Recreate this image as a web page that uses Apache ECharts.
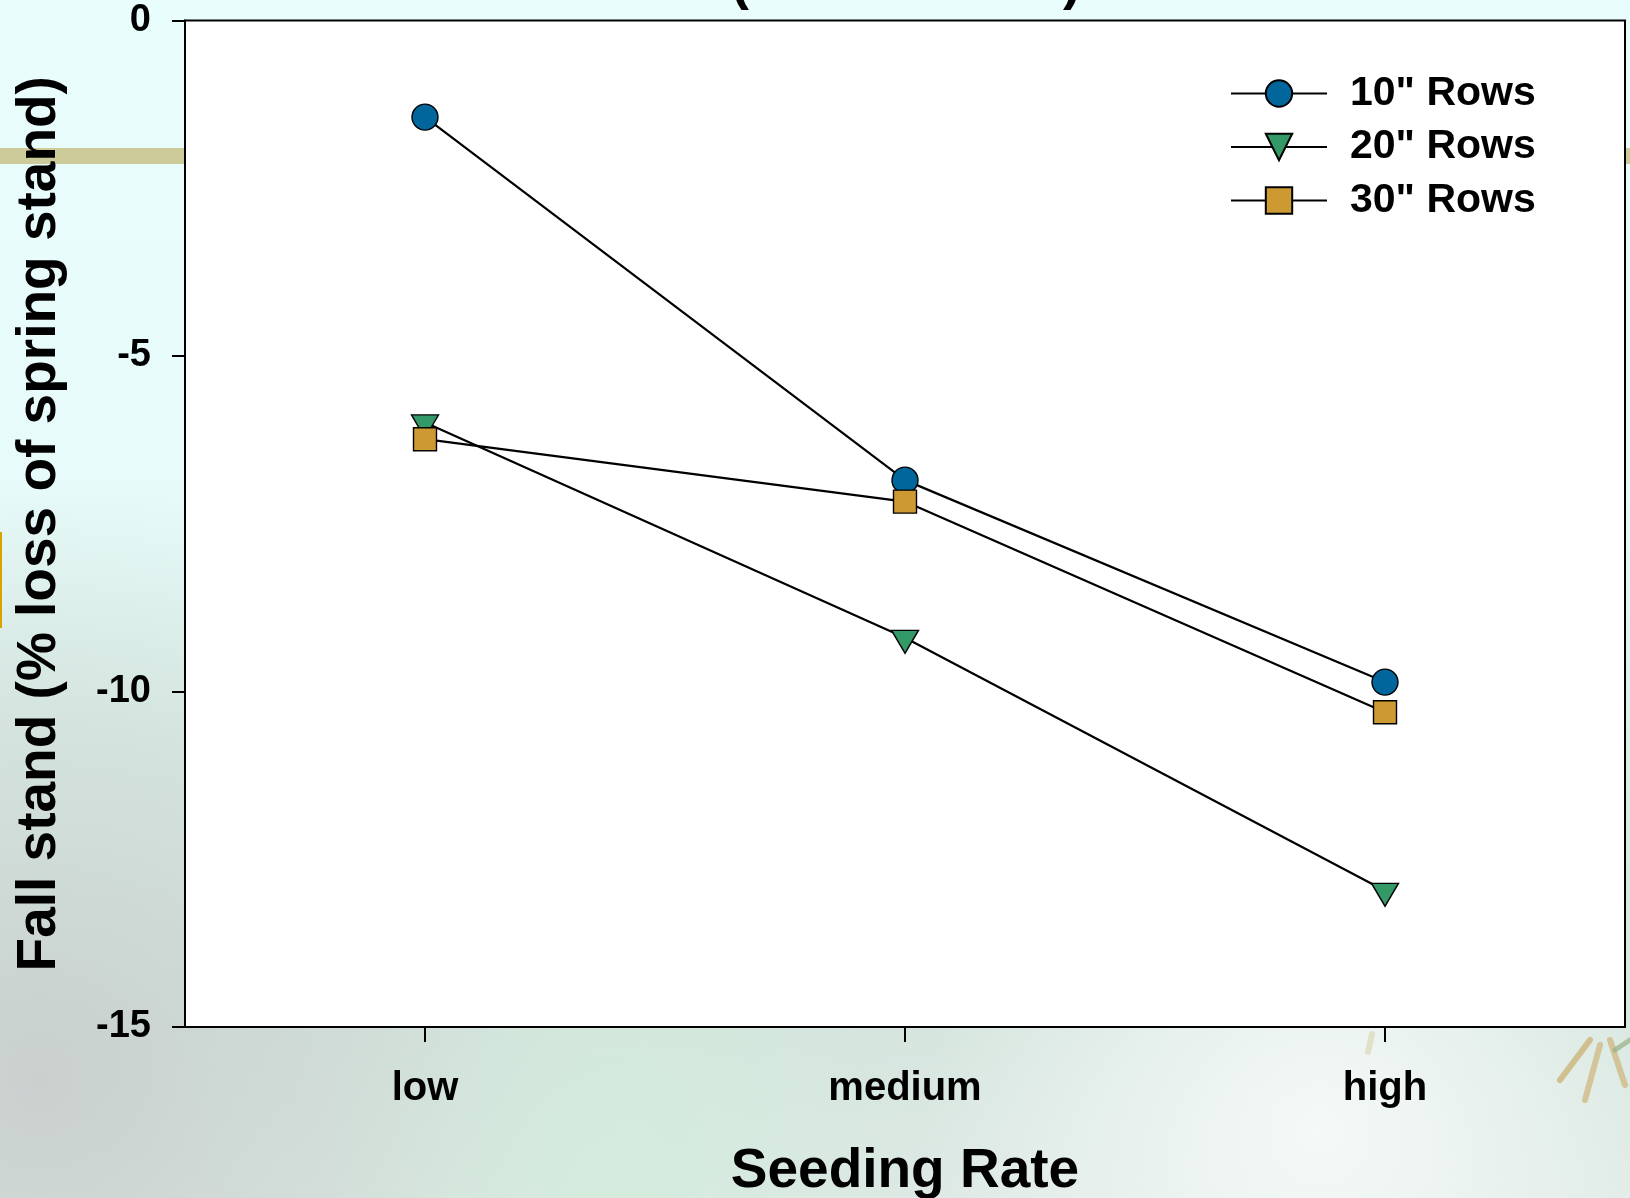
<!DOCTYPE html>
<html>
<head>
<meta charset="utf-8">
<title>Fall stand by seeding rate</title>
<script src="https://cdn.jsdelivr.net/npm/echarts@6/dist/echarts.min.js"></script>
<style>
  html, body { margin: 0; padding: 0; background: #e8fcfc; }
  #chart { width: 1630px; height: 1198px; }
</style>
</head>
<body>
<div id="chart"></div>
<script>
// Seeding rate categories (x axis)
const seedingRates = ['low', 'medium', 'high'];

// Fall stand, % loss of spring stand, per row spacing
const rows10 = [-1.44, -6.85, -9.86];
const rows20 = [-5.99, -9.20, -12.97];
const rows30 = [-6.24, -7.17, -10.31];

const seriesNames = ['10" Rows', '20" Rows', '30" Rows'];

// Y axis range and tick step
const yMin = -15;
const yMax = 0;
const yStep = 5;

const FONT = '"Liberation Sans", Arial, Helvetica, sans-serif';

const chart = echarts.init(document.getElementById('chart'), null, { renderer: 'canvas' });

// Soft slide-style backdrop behind the plot
const backdrop = [
  {
    type: 'rect', z: -20, silent: true,
    shape: { x: 0, y: 0, width: 1630, height: 1198 },
    style: {
      fill: {
        type: 'linear', x: 0, y: 0, x2: 0, y2: 1,
        colorStops: [
          { offset: 0, color: '#e9fdfd' },
          { offset: 0.4, color: '#e6fbfa' },
          { offset: 0.62, color: '#dcefe9' },
          { offset: 0.85, color: '#d5e5de' },
          { offset: 1, color: '#dde9e4' }
        ]
      }
    }
  },
  {
    type: 'circle', z: -19, silent: true,
    shape: { cx: 40, cy: 1080, r: 600 },
    style: {
      fill: {
        type: 'radial', x: 0.5, y: 0.5, r: 0.5,
        colorStops: [
          { offset: 0, color: 'rgba(198,202,202,0.8)' },
          { offset: 0.6, color: 'rgba(202,212,208,0.45)' },
          { offset: 1, color: 'rgba(210,225,220,0)' }
        ]
      }
    }
  },
  {
    type: 'circle', z: -19, silent: true,
    shape: { cx: 620, cy: 1180, r: 300 },
    style: {
      fill: {
        type: 'radial', x: 0.5, y: 0.5, r: 0.5,
        colorStops: [
          { offset: 0, color: 'rgba(208,236,218,0.7)' },
          { offset: 1, color: 'rgba(208,236,218,0)' }
        ]
      }
    }
  },
  {
    type: 'circle', z: -19, silent: true,
    shape: { cx: 1320, cy: 1130, r: 400 },
    style: {
      fill: {
        type: 'radial', x: 0.5, y: 0.5, r: 0.5,
        colorStops: [
          { offset: 0, color: 'rgba(246,250,249,0.95)' },
          { offset: 1, color: 'rgba(246,250,249,0)' }
        ]
      }
    }
  },
  // horizontal tan rule across the slide
  {
    type: 'rect', z: -18, silent: true,
    shape: { x: 0, y: 148, width: 1630, height: 16 },
    style: { fill: '#cdcb9a' }
  },
  // thin gold accent on the left edge
  {
    type: 'rect', z: -18, silent: true,
    shape: { x: 0, y: 532, width: 2, height: 96 },
    style: { fill: '#d9a200' }
  },
  // pine needle sprigs, lower right
  {
    type: 'group', z: -17, silent: true,
    children: [
      { type: 'line', shape: { x1: 1590, y1: 1040, x2: 1560, y2: 1080 }, style: { stroke: 'rgba(205,180,120,0.8)', lineWidth: 6, lineCap: 'round' } },
      { type: 'line', shape: { x1: 1600, y1: 1045, x2: 1585, y2: 1100 }, style: { stroke: 'rgba(205,180,120,0.7)', lineWidth: 6, lineCap: 'round' } },
      { type: 'line', shape: { x1: 1610, y1: 1040, x2: 1625, y2: 1085 }, style: { stroke: 'rgba(205,180,120,0.7)', lineWidth: 6, lineCap: 'round' } },
      { type: 'line', shape: { x1: 1615, y1: 1050, x2: 1630, y2: 1040 }, style: { stroke: 'rgba(150,175,130,0.7)', lineWidth: 5, lineCap: 'round' } },
      { type: 'line', shape: { x1: 1372, y1: 1034, x2: 1368, y2: 1052 }, style: { stroke: 'rgba(215,200,150,0.45)', lineWidth: 6, lineCap: 'round' } }
    ]
  },
  // lower edge of the slide heading brackets
  {
    type: 'text', z: 10, silent: true,
    x: 740, y: 11,
    style: { text: '(', font: 'bold 54px ' + FONT, fill: '#000', align: 'center', verticalAlign: 'bottom' }
  },
  {
    type: 'text', z: 10, silent: true,
    x: 1072, y: 11,
    style: { text: ')', font: 'bold 54px ' + FONT, fill: '#000', align: 'center', verticalAlign: 'bottom' }
  }
];

const lineStyle = { color: '#000', width: 2.2 };
const markerBorder = { borderColor: '#000', borderWidth: 1.4 };

const option = {
  animation: false,
  graphic: { elements: backdrop },
  grid: {
    left: 185, right: 5, top: 20.5, bottom: 171,
    outerBoundsMode: 'none',
    containLabel: false,
    show: true,
    backgroundColor: '#ffffff',
    borderColor: '#000',
    borderWidth: 2
  },
  legend: {
    orient: 'vertical',
    left: 1230,
    top: 73,
    padding: 0,
    itemWidth: 96,
    itemHeight: 33,
    itemGap: 12.5,
    selectedMode: false,
    data: seriesNames,
    textStyle: {
      fontFamily: FONT, fontWeight: 'bold', fontSize: 41, color: '#000',
      lineHeight: 40, padding: [0, 0, 0, 18]
    }
  },
  xAxis: {
    type: 'category',
    data: seedingRates,
    boundaryGap: true,
    name: 'Seeding Rate',
    nameLocation: 'middle',
    nameGap: 117,
    nameTextStyle: { fontFamily: FONT, fontWeight: 'bold', fontSize: 55, color: '#000' },
    axisLine: { show: true, onZero: false, lineStyle: { color: '#000', width: 2 } },
    axisTick: { show: true, alignWithLabel: true, length: 15, lineStyle: { color: '#000', width: 2 } },
    axisLabel: { margin: 42, fontFamily: FONT, fontWeight: 'bold', fontSize: 40, color: '#000' },
    splitLine: { show: false }
  },
  yAxis: {
    type: 'value',
    min: yMin,
    max: yMax,
    interval: yStep,
    name: 'Fall stand (% loss of spring stand)',
    nameLocation: 'middle',
    nameRotate: 90,
    nameGap: 118,
    nameTextStyle: { fontFamily: FONT, fontWeight: 'bold', fontSize: 55, color: '#000' },
    axisLine: { show: true, lineStyle: { color: '#000', width: 2 } },
    axisTick: { show: true, length: 13, lineStyle: { color: '#000', width: 2 } },
    axisLabel: { margin: 34, fontFamily: FONT, fontWeight: 'bold', fontSize: 38, color: '#000' },
    splitLine: { show: false }
  },
  series: [
    {
      name: seriesNames[0], type: 'line', data: rows10,
      symbol: 'circle', symbolSize: 26,
      lineStyle: lineStyle,
      itemStyle: Object.assign({ color: '#00669c' }, markerBorder),
      emphasis: { disabled: true }
    },
    {
      name: seriesNames[1], type: 'line', data: rows20,
      symbol: 'triangle', symbolRotate: 180, symbolSize: [27, 23], symbolOffset: [0, 4],
      lineStyle: lineStyle,
      itemStyle: Object.assign({ color: '#339966' }, markerBorder),
      emphasis: { disabled: true }
    },
    {
      name: seriesNames[2], type: 'line', data: rows30,
      symbol: 'rect', symbolSize: 23,
      lineStyle: lineStyle,
      itemStyle: Object.assign({ color: '#cc9933' }, markerBorder),
      emphasis: { disabled: true }
    }
  ]
};

chart.setOption(option);
</script>
</body>
</html>
